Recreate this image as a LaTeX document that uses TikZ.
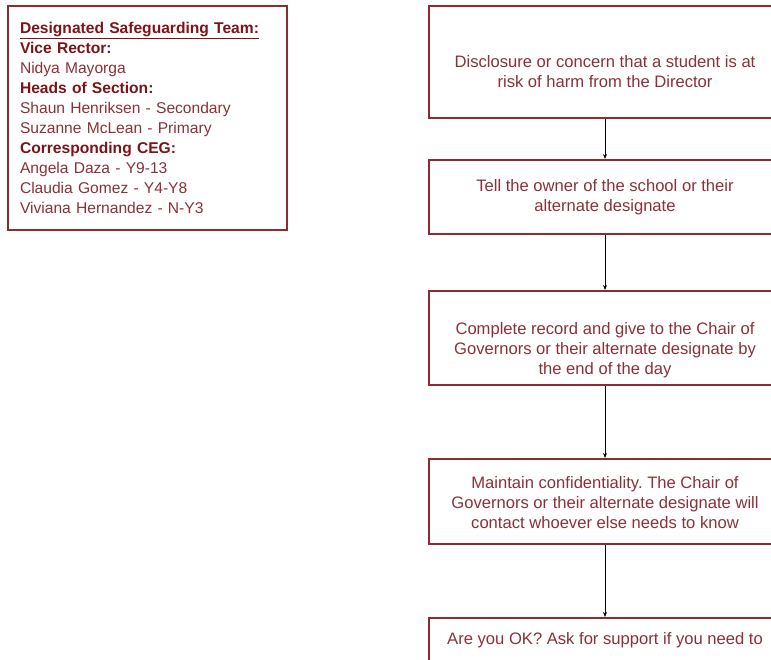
\documentclass[tikz,border=0pt]{standalone}
\usepackage{fontspec}
\setmainfont{Liberation Sans}
\usetikzlibrary{arrows.meta}
\definecolor{sgred}{HTML}{8E2A32}
\definecolor{sgtext}{HTML}{8A3038}
\definecolor{sghead}{HTML}{7A1418}
\tikzset{
  flowbox/.style={draw=sgred, line width=2pt, minimum width=353pt, inner sep=0pt},
  boxtext/.style={text=sgtext, align=center, font=\fontsize{16.6}{20}\selectfont},
  flowarrow/.style={draw=black, line width=0.8pt, -{Stealth[length=5pt,width=4pt]}},
}
\newcommand{\teamhead}[1]{\textbf{\color{sghead}#1}}
\frenchspacing
\begin{document}
\begin{tikzpicture}[x=1pt,y=-1pt]
  \useasboundingbox (0,0) rectangle (771,660);
  % team box
  \node[draw=sgred, line width=2pt, anchor=north west, minimum width=279pt, minimum height=224pt,
        inner xsep=12pt, text width=255pt, align=left, text=sgtext,
        font=\fontsize{15.6}{20}\selectfont] (team) at (7,5)
    {\teamhead{\underline{Designated Safeguarding Team:}}\\
     \teamhead{Vice Rector:}\\
     Nidya Mayorga\\
     \teamhead{Heads of Section:}\\
     Shaun Henriksen - Secondary\\
     Suzanne McLean - Primary\\
     \teamhead{Corresponding CEG:}\\
     Angela Daza - Y9-13\\
     Claudia Gomez - Y4-Y8\\
     Viviana Hernandez - N-Y3};
  % flow boxes
  \node[flowbox, minimum height=112pt] (disclosure) at (605,62) {};
  \node[flowbox, minimum height=74pt] (owner) at (605,197) {};
  \node[flowbox, minimum height=94pt] (record) at (605,338) {};
  \node[flowbox, minimum height=85pt] (confidential) at (605,501.5) {};
  \node[flowbox, minimum height=46pt] (support) at (605,641) {};
  % box texts
  \node[boxtext] (disclosure text) at (605,72) {Disclosure or concern that a student is at\\risk of harm from the Director};
  \node[boxtext] (owner text) at (605,197.5) {Tell the owner of the school or their\\alternate designate};
  \node[boxtext] (record text) at (605,350) {Complete record and give to the Chair of\\Governors or their alternate designate by\\the end of the day};
  \node[boxtext] (confidential text) at (605,503) {Maintain confidentiality. The Chair of\\Governors or their alternate designate will\\contact whoever else needs to know};
  \node[boxtext] (support text) at (605,640) {Are you OK? Ask for support if you need to};
  % arrows
  \draw[flowarrow] (disclosure) -- (owner);
  \draw[flowarrow] (owner) -- (record);
  \draw[flowarrow] (record) -- (confidential);
  \draw[flowarrow] (confidential) -- (support);
\end{tikzpicture}
\end{document}
